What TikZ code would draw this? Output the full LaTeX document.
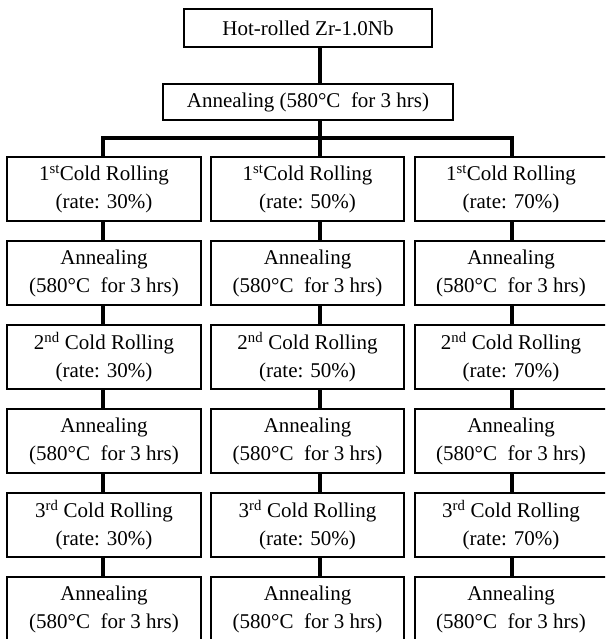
\documentclass[tikz,border=0pt]{standalone}
\usepackage{fontspec}
\setmainfont{Liberation Serif}
\begin{document}
\begin{tikzpicture}[x=1pt,y=-1pt,
  box/.style={draw=black,line width=1.6pt,fill=white,inner sep=0pt,align=center,
    font=\fontsize{21}{28}\selectfont},
  cbox/.style={box,minimum height=64pt},
  conn/.style={draw=black,line width=4.2pt}]
\clip (0,0) rectangle (605,639);
\fill[white] (0,0) rectangle (605,639);
% coordinates for connector columns
\coordinate (xL) at (103,0);
\coordinate (xM) at (320,0);
\coordinate (xR) at (512,0);
\coordinate (bar) at (320,138);
% top
\node[box,minimum width=248pt,minimum height=38pt] (top) at (308,28) {Hot-rolled Zr-1.0Nb};
\node[box,minimum width=290pt,minimum height=36pt] (ann0) at (308,102) {Annealing (580°C~ for 3 hrs)};
% columns
\foreach \col/\cx/\w/\rate in {L/104/194/30, M/307.5/193/50, R/511/192/70}{
  \node[cbox,minimum width=\w pt] (\col1) at (\cx,189) {1\textsuperscript{st}Cold Rolling\\(rate: \rate\%)};
  \node[cbox,minimum width=\w pt] (\col2) at (\cx,273) {Annealing\\(580°C~ for 3 hrs)};
  \node[cbox,minimum width=\w pt] (\col3) at (\cx,357) {2\textsuperscript{nd} Cold Rolling\\(rate: \rate\%)};
  \node[cbox,minimum width=\w pt] (\col4) at (\cx,441) {Annealing\\(580°C~ for 3 hrs)};
  \node[cbox,minimum width=\w pt] (\col5) at (\cx,525) {3\textsuperscript{rd} Cold Rolling\\(rate: \rate\%)};
  \node[cbox,minimum width=\w pt] (\col6) at (\cx,609) {Annealing\\(580°C~ for 3 hrs)};
}
% trunk
\draw[conn] (top.south -| xM) -- (ann0.north -| xM);
\draw[conn] (ann0.south -| xM) -- (M1.north -| xM);
\draw[conn] (L1.north -| xL) -- (xL |- bar) -- (xR |- bar) -- (R1.north -| xR);
% column connectors
\foreach \col in {L,M,R}{
  \foreach \a/\b in {1/2,2/3,3/4,4/5,5/6}{
    \draw[conn] (\col\a.south -| x\col) -- (\col\b.north -| x\col);
  }
}
\end{tikzpicture}
\end{document}
